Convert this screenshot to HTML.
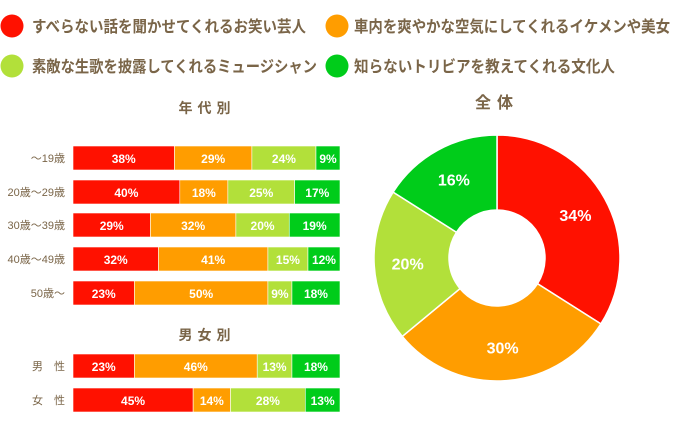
<!DOCTYPE html>
<html><head><meta charset="utf-8"><style>
body{margin:0;background:#fff;width:673px;height:432px;overflow:hidden}
svg text{font-family:"Liberation Sans","Noto Sans CJK JP",sans-serif}
</style></head><body>
<svg id="c" width="673" height="432">
<g font-size="16" fill="#7a6548" font-weight="bold">
<circle cx="12" cy="26" r="11.5" fill="#ff1100"/>
<text x="32" y="32" textLength="274" lengthAdjust="spacingAndGlyphs">すべらない話を聞かせてくれるお笑い芸人</text>
<circle cx="337" cy="26" r="11.5" fill="#ff9d00"/>
<text x="354" y="32" textLength="316" lengthAdjust="spacingAndGlyphs">車内を爽やかな空気にしてくれるイケメンや美女</text>
<circle cx="12" cy="66" r="11.5" fill="#b2e03a"/>
<text x="32" y="72" textLength="285" lengthAdjust="spacingAndGlyphs">素敵な生歌を披露してくれるミュージシャン</text>
<circle cx="337" cy="66" r="11.5" fill="#00cc1a"/>
<text x="354" y="72" textLength="261" lengthAdjust="spacingAndGlyphs">知らないトリビアを教えてくれる文化人</text>
</g>
<text x="207" y="113" text-anchor="middle" font-size="14" font-weight="bold" fill="#7a6548" letter-spacing="5">年代別</text>
<text x="207" y="340" text-anchor="middle" font-size="14" font-weight="bold" fill="#7a6548" letter-spacing="5">男女別</text>
<text x="497" y="108" text-anchor="middle" font-size="16" font-weight="bold" fill="#7a6548" letter-spacing="6">全体</text>
<g id="bars"></g>
<g id="donut"></g>
</svg>
<script>
const colors=["#ff1100","#ff9d00","#b2e03a","#00cc1a"];
const ageCats=["〜19歳","20歳〜29歳","30歳〜39歳","40歳〜49歳","50歳〜"];
const s1=[38,40,29,32,23];
const s2=[29,18,32,41,50];
const s3=[24,25,20,15,9];
const s4=[9,17,19,12,18];
const genderCats=["男　性","女　性"];
const g1=[23,45];
const g2=[46,14];
const g3=[13,28];
const g4=[18,13];
const totalVals=[34,30,20,16];
const NS="http://www.w3.org/2000/svg";
const bars=document.getElementById("bars");
const x0=73,x1=340,bh=24;
const xScale=v=>v/100*(x1-x0);
function mk(t,a){const e=document.createElementNS(NS,t);for(const k in a)e.setAttribute(k,a[k]);return e;}
function row(label,vals,yc){
  const l=mk("text",{x:65,y:yc+4,"text-anchor":"end","font-size":11,fill:"#7a6548"});
  l.textContent=label;
  
  
  bars.appendChild(l);
  let x=x0;
  vals.forEach((v,i)=>{
    const w=xScale(v);
    const r=mk("rect",{x:x,y:yc-bh/2,width:w,height:bh,fill:colors[i],stroke:"#fff","stroke-width":0.6});
    
    
    bars.appendChild(r);
    const t=mk("text",{x:x+w/2,y:yc+5,"text-anchor":"middle","font-size":12,"font-weight":"bold",fill:"#fff"});
    t.textContent=v+"%";
    
    
    bars.appendChild(t);
    x+=w;
  });
}
const ageY=[158,192,225,259,293];
ageCats.forEach((c,i)=>row(c,[s1[i],s2[i],s3[i],s4[i]],ageY[i]));
const genY=[366,400];
genderCats.forEach((c,i)=>row(c,[g1[i],g2[i],g3[i],g4[i]],genY[i]));
const dn=document.getElementById("donut");
const cx=497,cy=258,R=123,r0=48;
const tot=totalVals.reduce((a,b)=>a+b,0);
let a0=0;
totalVals.forEach((v,i)=>{
  const a1=a0+v/tot*2*Math.PI;
  const p=(a,rr)=>[cx+rr*Math.sin(a),cy-rr*Math.cos(a)];
  const [ax,ay]=p(a0,R),[bx,by]=p(a1,R),[cx2,cy2]=p(a1,r0),[dx,dy]=p(a0,r0);
  const lg=(a1-a0)>Math.PI?1:0;
  const path=mk("path",{d:`M${ax},${ay}A${R},${R} 0 ${lg} 1 ${bx},${by}L${cx2},${cy2}A${r0},${r0} 0 ${lg} 0 ${dx},${dy}Z`,fill:colors[i],stroke:"#fff","stroke-width":1.5});
  
  
  dn.appendChild(path);
  const m=(a0+a1)/2,[lx,ly]=p(m,(R+r0)/2+4);
  const t=mk("text",{x:lx,y:ly+6,"text-anchor":"middle","font-size":16,"font-weight":"bold",fill:"#fff"});
  t.textContent=v+"%";
  
  
  dn.appendChild(t);
  a0=a1;
});
</script>
</body></html>
